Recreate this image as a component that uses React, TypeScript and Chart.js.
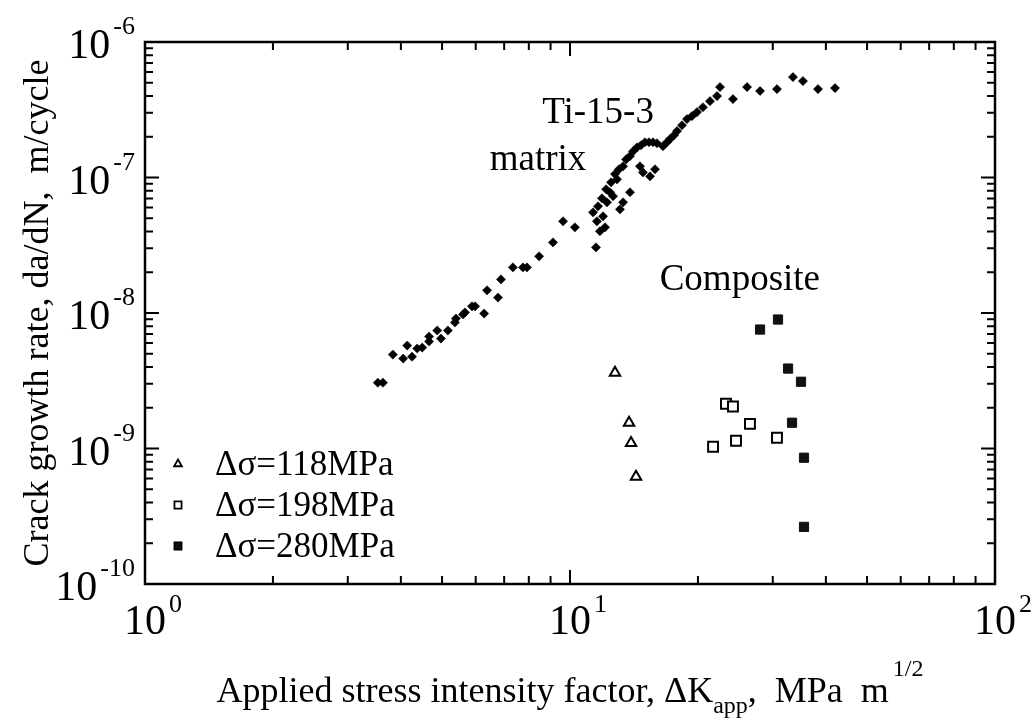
import React, { useEffect, useRef } from 'react';
import { Chart, registerables } from 'chart.js';

Chart.register(...registerables);

// ---- data ----
// Ti-15-3 matrix: ΔK (MPa m^1/2) and da/dN (m/cycle)
const matrixK = [
  3.53, 3.63, 3.83, 4.05, 4.14, 4.25, 4.37, 4.49, 4.66, 4.66, 4.87, 4.97, 5.16, 5.36, 5.39, 5.6, 5.66, 5.88, 5.98,
  6.28, 6.38, 6.77, 6.88, 7.34, 7.75, 7.92, 8.46, 9.12, 9.63, 10.27,
  11.33, 11.51, 11.57, 11.64, 11.76, 11.89, 11.96, 12.09, 12.16, 12.22, 12.42, 12.49, 12.63, 12.76, 12.9, 13.04,
  13.11, 13.33, 13.33, 13.55, 13.84, 13.84, 14.07, 14.38, 14.61, 14.69, 14.85, 15.01, 15.34, 15.43, 15.68, 15.85,
  16.02, 16.55, 16.91, 17.19, 17.57, 17.86, 18.35, 18.85, 19.37, 19.9, 20.55, 21.35, 22.18, 22.54, 24.18, 26.1,
  28.0, 30.69, 33.47, 35.33, 38.33, 42.03,
];
const matrixRate = [
  3.06e-9, 3.06e-9, 4.93e-9, 4.61e-9, 5.75e-9, 4.76e-9, 5.47e-9, 5.56e-9, 6.16e-9, 6.7e-9, 7.43e-9, 6.48e-9, 7.43e-9,
  8.51e-9, 9.1e-9, 9.75e-9, 1.01e-8, 1.12e-8, 1.12e-8, 9.91e-9, 1.47e-8, 1.3e-8, 1.77e-8, 2.17e-8, 2.17e-8, 2.17e-8,
  2.62e-8, 3.32e-8, 4.75e-8, 4.29e-8,
  5.53e-8, 3.05e-8, 4.75e-8, 6.13e-8, 4.01e-8, 7.02e-8, 5.17e-8, 4.29e-8, 8.19e-8, 6.56e-8, 7.78e-8, 9.22e-8,
  7.27e-8, 1.06e-7, 9.7e-8, 1.15e-7, 5.82e-8, 1.21e-7, 6.56e-8, 1.36e-7, 1.44e-7, 7.78e-8, 1.56e-7, 1.67e-7,
  1.21e-7, 1.73e-7, 1.09e-7, 1.82e-7, 1.82e-7, 1.02e-7, 1.82e-7, 1.15e-7, 1.79e-7, 1.7e-7, 1.82e-7, 1.92e-7,
  2.05e-7, 2.2e-7, 2.43e-7, 2.7e-7, 2.84e-7, 3.04e-7, 3.3e-7, 3.66e-7, 3.99e-7, 4.65e-7, 3.79e-7, 4.65e-7,
  4.35e-7, 4.49e-7, 5.51e-7, 5.15e-7, 4.49e-7, 4.57e-7,
];
// Composite, Δσ = 118 MPa
const comp118K = [12.76, 13.77, 13.92, 14.3];
const comp118Rate = [3.63e-9, 1.55e-9, 1.1e-9, 6.18e-10];
// Composite, Δσ = 198 MPa
const comp198K = [21.71, 23.28, 24.18, 24.58, 26.51, 30.69];
const comp198Rate = [1.03e-9, 2.14e-9, 2.04e-9, 1.14e-9, 1.52e-9, 1.2e-9];
// Composite, Δσ = 280 MPa
const comp280K = [28.0, 30.86, 32.59, 34.96, 33.3, 35.53, 35.53];
const comp280Rate = [7.55e-9, 8.95e-9, 3.89e-9, 3.11e-9, 1.55e-9, 8.55e-10, 2.64e-10];

const legendLabels = ['\u0394\u03c3=118MPa', '\u0394\u03c3=198MPa', '\u0394\u03c3=280MPa'];
const xDecadeExps = [0, 1, 2];
const yDecadeExps = [-6, -7, -8, -9, -10];
const yTitle = 'Crack growth rate, da/dN,  m/cycle';
const xTitleMain = 'Applied stress intensity factor, \u0394K';
const xTitleSub = 'app';
const xTitleRest = ',  MPa  m';
const xTitleSup = '1/2';
const noteTi = 'Ti-15-3';
const noteMatrix = 'matrix';
const noteComposite = 'Composite';

const SERIF = '"Liberation Serif", "Times New Roman", serif';

function pts(xs: number[], ys: number[]) {
  return xs.map((x, i) => ({ x, y: ys[i] }));
}

const paperPlugin = {
  id: 'paper',
  afterDraw(chart: any) {
    const ctx: CanvasRenderingContext2D = chart.ctx;
    const xs = chart.scales.x;
    const ys = chart.scales.y;
    const { left, right, top, bottom } = chart.chartArea;
    ctx.save();
    ctx.strokeStyle = '#000';
    ctx.fillStyle = '#000';
    // frame
    ctx.lineWidth = 2.5;
    ctx.strokeRect(left, top, right - left, bottom - top);
    // ticks
    ctx.lineWidth = 2;
    ctx.beginPath();
    for (let d = 0; d < 2; d++) {
      for (let m = 1; m <= 9; m++) {
        const v = m * Math.pow(10, d);
        const px = xs.getPixelForValue(v);
        const len = m === 1 ? 14 : 8;
        ctx.moveTo(px, bottom);
        ctx.lineTo(px, bottom - len);
        ctx.moveTo(px, top);
        ctx.lineTo(px, top + len);
      }
    }
    for (let d = -10; d < -6; d++) {
      for (let m = 1; m <= 9; m++) {
        const v = m * Math.pow(10, d);
        const py = ys.getPixelForValue(v);
        const len = m === 1 ? 14 : 8;
        ctx.moveTo(left, py);
        ctx.lineTo(left + len, py);
        ctx.moveTo(right, py);
        ctx.lineTo(right - len, py);
      }
    }
    ctx.stroke();

    // x tick labels
    ctx.textBaseline = 'alphabetic';
    xDecadeExps.forEach((e) => {
      const px = xs.getPixelForValue(Math.pow(10, e));
      ctx.font = `42px ${SERIF}`;
      const w = ctx.measureText('10').width;
      ctx.textAlign = 'left';
      ctx.fillText('10', px - w / 2, bottom + 50);
      ctx.font = `26px ${SERIF}`;
      ctx.fillText(String(e), px + w / 2 + 3, bottom + 28);
    });
    // y tick labels
    yDecadeExps.forEach((e) => {
      const py = ys.getPixelForValue(Math.pow(10, e));
      ctx.font = `26px ${SERIF}`;
      const sw = ctx.measureText(String(e)).width;
      const supX = left - 10 - sw;
      ctx.textAlign = 'left';
      ctx.fillText(String(e), supX, py - 8);
      ctx.font = `42px ${SERIF}`;
      ctx.textAlign = 'right';
      ctx.fillText('10', supX - 3, py + 16);
    });

    // y title
    ctx.save();
    ctx.translate(48, (top + bottom) / 2);
    ctx.rotate(-Math.PI / 2);
    ctx.font = `36px ${SERIF}`;
    ctx.textAlign = 'center';
    ctx.fillText(yTitle, 0, 0);
    ctx.restore();

    // x title with sub/superscript
    ctx.textAlign = 'left';
    const big = `36px ${SERIF}`;
    const small = `24px ${SERIF}`;
    ctx.font = big;
    const w1 = ctx.measureText(xTitleMain).width;
    const w3 = ctx.measureText(xTitleRest).width;
    ctx.font = small;
    const w2 = ctx.measureText(xTitleSub).width;
    const w4 = ctx.measureText(xTitleSup).width;
    const total = w1 + w2 + w3 + w4 + 4;
    let cx = (left + right) / 2 - total / 2;
    const by = bottom + 118;
    ctx.font = big;
    ctx.fillText(xTitleMain, cx, by);
    cx += w1;
    ctx.font = small;
    ctx.fillText(xTitleSub, cx, by + 11);
    cx += w2;
    ctx.font = big;
    ctx.fillText(xTitleRest, cx, by);
    cx += w3 + 4;
    ctx.font = small;
    ctx.fillText(xTitleSup, cx, by - 26);

    // annotations
    ctx.font = `37px ${SERIF}`;
    ctx.textAlign = 'center';
    ctx.textBaseline = 'middle';
    ctx.fillText(noteTi, xs.getPixelForValue(11.64), ys.getPixelForValue(2.99e-7));
    ctx.fillText(noteMatrix, xs.getPixelForValue(8.41), ys.getPixelForValue(1.35e-7));
    ctx.fillText(noteComposite, xs.getPixelForValue(25.1), ys.getPixelForValue(1.75e-8));

    // legend
    const styles = [
      { ps: 'triangle', r: 4.5, fill: '#fff' },
      { ps: 'rect', r: 5, fill: '#fff' },
      { ps: 'rect', r: 5, fill: '#111' },
    ];
    legendLabels.forEach((lab, i) => {
      const ly = bottom - 120 + i * 41;
      const mx = left + 33;
      const st = styles[i];
      ctx.lineWidth = 1.8;
      ctx.strokeStyle = '#000';
      ctx.fillStyle = st.fill;
      (Chart as any).helpers
        ? null
        : null;
      drawMarker(ctx, st.ps, mx, ly, st.r);
      ctx.fillStyle = '#000';
      ctx.font = `35px ${SERIF}`;
      ctx.textAlign = 'left';
      ctx.textBaseline = 'middle';
      ctx.fillText(lab, left + 70, ly + 2);
    });
    ctx.restore();
  },
};

function drawMarker(ctx: CanvasRenderingContext2D, style: string, x: number, y: number, r: number) {
  ctx.beginPath();
  if (style === 'triangle') {
    ctx.moveTo(x, y - r);
    ctx.lineTo(x + r * 0.866, y + r * 0.5);
    ctx.lineTo(x - r * 0.866, y + r * 0.5);
    ctx.closePath();
  } else {
    const s = r * 0.707;
    ctx.rect(x - s, y - s, 2 * s, 2 * s);
  }
  ctx.fill();
  ctx.stroke();
}

export default function App() {
  const ref = useRef<HTMLCanvasElement | null>(null);
  useEffect(() => {
    document.body.style.margin = '0';
    const canvas = ref.current!;
    const chart = new Chart(canvas, {
      type: 'scatter',
      data: {
        datasets: [
          {
            label: 'Ti-15-3 matrix',
            data: pts(matrixK, matrixRate),
            pointStyle: 'rectRot',
            pointRadius: 4.6,
            backgroundColor: '#000',
            borderColor: '#000',
            borderWidth: 0.5,
          },
          {
            label: legendLabels[0],
            data: pts(comp118K, comp118Rate),
            pointStyle: 'triangle',
            pointRadius: 6,
            backgroundColor: '#fff',
            borderColor: '#000',
            borderWidth: 2,
          },
          {
            label: legendLabels[1],
            data: pts(comp198K, comp198Rate),
            pointStyle: 'rect',
            pointRadius: 7,
            backgroundColor: '#fff',
            borderColor: '#000',
            borderWidth: 2,
          },
          {
            label: legendLabels[2],
            data: pts(comp280K, comp280Rate),
            pointStyle: 'rect',
            pointRadius: 6.5,
            backgroundColor: '#111',
            borderColor: '#111',
            borderWidth: 1,
          },
        ],
      },
      options: {
        responsive: false,
        animation: false,
        layout: { padding: { left: 145, right: 40, top: 42, bottom: 142 } },
        plugins: { legend: { display: false }, tooltip: { enabled: false } },
        scales: {
          x: { type: 'logarithmic', min: 1, max: 100, display: false },
          y: { type: 'logarithmic', min: 1e-10, max: 1e-6, display: false },
        },
      },
      plugins: [paperPlugin],
    });
    return () => chart.destroy();
  }, []);
  return (
    <div style={{ width: 1035, height: 726, background: '#fff' }}>
      <canvas ref={ref} width={1035} height={726} style={{ display: 'block' }} />
    </div>
  );
}
